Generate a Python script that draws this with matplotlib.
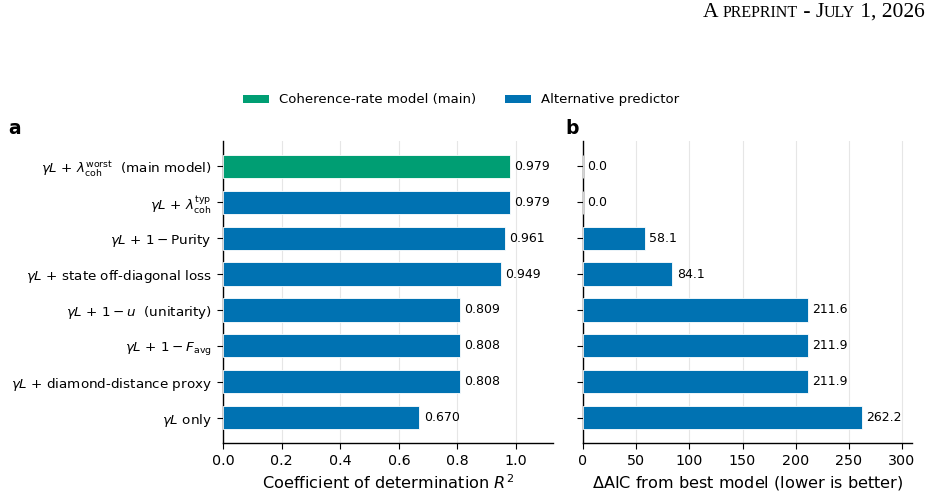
import matplotlib
matplotlib.use("Agg")
import matplotlib.pyplot as plt
from matplotlib.patches import Patch

labels = [
    r"$\gamma L$ + $\lambda_{\mathrm{coh}}^{\mathrm{worst}}$  (main model)",
    r"$\gamma L$ + $\lambda_{\mathrm{coh}}^{\mathrm{typ}}$",
    r"$\gamma L$ + $1 - $Purity",
    r"$\gamma L$ + state off-diagonal loss",
    r"$\gamma L$ + $1 - u$  (unitarity)",
    r"$\gamma L$ + $1 - F_{\mathrm{avg}}$",
    r"$\gamma L$ + diamond-distance proxy",
    r"$\gamma L$ only",
]
r2 = [0.979, 0.979, 0.961, 0.949, 0.809, 0.808, 0.808, 0.670]
daic = [0.0, 0.0, 58.1, 84.1, 211.6, 211.9, 211.9, 262.2]
is_main = [True, False, False, False, False, False, False, False]

GREEN = "#009E73"
BLUE = "#0072B2"
colors = [GREEN if m else BLUE for m in is_main]

plt.rcParams["font.family"] = "DejaVu Sans"
plt.rcParams["mathtext.fontset"] = "dejavusans"
plt.rcParams["axes.linewidth"] = 1.0
plt.rcParams["xtick.major.size"] = 4.5
plt.rcParams["ytick.major.size"] = 4.5

fig = plt.figure(figsize=(9.34, 4.99), dpi=100)
ax1 = fig.add_axes([223/934, 1-443/499, (553-223)/934, (443-141)/499])
ax2 = fig.add_axes([583/934, 1-443/499, (912-583)/934, (443-141)/499])

y = list(range(len(labels)))
for ax, vals, fmt, xmax in [(ax1, r2, "{:.3f}", max(r2)*1.15), (ax2, daic, "{:.1f}", max(daic)*1.18)]:
    ax.barh(y, vals, height=0.65, color=colors, edgecolor="white", linewidth=0.6, zorder=3)
    ax.set_xlim(0, xmax)
    ax.invert_yaxis()
    ax.set_yticks(y)
    ax.spines["top"].set_visible(False)
    ax.spines["right"].set_visible(False)
    ax.grid(axis="x", color="#e6e6e6", linewidth=0.8, zorder=0)
    ax.set_axisbelow(True)
    ax.tick_params(labelsize=10.3)
    off = xmax * 0.013
    for yi, v in zip(y, vals):
        ax.text(v + off, yi, fmt.format(v), va="center", ha="left", fontsize=9, zorder=4)

ax1.set_yticklabels(labels, fontsize=9.7)
ax2.set_yticklabels([])
ax1.set_xticks([0.0, 0.2, 0.4, 0.6, 0.8, 1.0])
ax2.set_xticks([0, 50, 100, 150, 200, 250, 300])
ax1.set_xlabel(r"Coefficient of determination $R^2$", fontsize=11.6)
ax2.set_xlabel(r"$\Delta$AIC from best model (lower is better)", fontsize=11.6)

fig.text(8/934, 1-128/499, "a", fontsize=13.5, fontweight="bold", va="center", ha="left")
fig.text(565/934, 1-128/499, "b", fontsize=13.5, fontweight="bold", va="center", ha="left")

handles = [Patch(facecolor=GREEN, label="Coherence-rate model (main)"),
           Patch(facecolor=BLUE, label="Alternative predictor")]
fig.legend(handles=handles, loc="center", bbox_to_anchor=(461/934, 1-100/499), ncol=2,
           frameon=False, fontsize=9.5, handlelength=2.0, handleheight=0.6,
           handletextpad=0.75, columnspacing=2.2)

# header in small-caps style
serif = "Liberation Serif"
parts = [("A ", 15.5), ("PREPRINT", 11.5), (" - J", 15.5), ("ULY", 11.5), (" 1, 2026", 15.5)]
fig.canvas.draw()
renderer = fig.canvas.get_renderer()
x = 640/934
texts = []
for s, fs in parts:
    t = fig.text(x, 1-17/499, s, fontsize=fs, family=serif, ha="left", va="baseline")
    bb = t.get_window_extent(renderer=renderer)
    x += bb.width / fig.bbox.width
    texts.append(t)
shift = 925/934 - x
for t in texts:
    px, py = t.get_position()
    t.set_position((px + shift, py))

fig.savefig("out.png", dpi=100)
